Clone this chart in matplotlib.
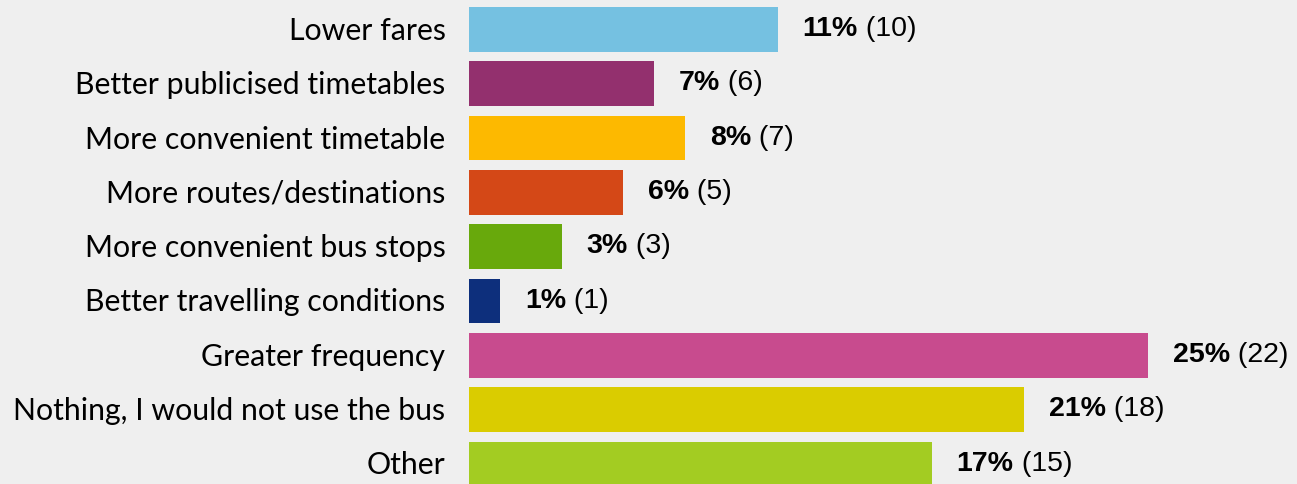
import matplotlib
matplotlib.use("Agg")
import matplotlib.pyplot as plt
import matplotlib.transforms as mtransforms

categories = ["Lower fares", "Better publicised timetables", "More convenient timetable",
              "More routes/destinations", "More convenient bus stops",
              "Better travelling conditions", "Greater frequency",
              "Nothing, I would not use the bus", "Other"]
percents = [11, 7, 8, 6, 3, 1, 25, 21, 17]
counts = [10, 6, 7, 5, 3, 1, 22, 18, 15]
colors = ["#75C1E1", "#93306E", "#FDB900", "#D44817", "#68A90C",
          "#0D2F7C", "#C84B8E", "#DACC00", "#A3CC22"]

W, H = 1297, 485
fig = plt.figure(figsize=(W / 100, H / 100), dpi=100)
bg = "#EFEFEF"
fig.patch.set_facecolor(bg)
x0 = 469
ax = fig.add_axes([x0 / W, 0, 1 - x0 / W, 1])
ax.set_facecolor(bg)

pitch = 54.3
first = 30.5
ypos = list(range(len(categories)))
ax.barh(ypos, counts, height=44.7 / pitch, color=colors)
ax.set_xlim(0, (W - x0) / 30.85)
ax.set_ylim((H - first) / pitch, -first / pitch)

ax.set_yticks(ypos)
ax.set_yticklabels(categories, fontfamily="Lato", fontsize=21.8)
ax.tick_params(axis="y", length=0, pad=17)
shift = mtransforms.ScaledTranslation(0, 2 / 100, fig.dpi_scale_trans)
for lab in ax.get_yticklabels():
    lab.set_transform(lab.get_transform() + shift)
ax.set_xticks([])
for s in ax.spines.values():
    s.set_visible(False)

for y, c, p in zip(ypos, counts, percents):
    t1 = ax.annotate(f"{p}%", xy=(c, y), xytext=(18, 1), textcoords="offset points",
                     va="center", ha="left", fontfamily="Liberation Sans",
                     fontweight="bold", fontsize=20.5)
    ax.annotate(f" ({c})", xy=(1, 0), xycoords=t1, va="bottom", ha="left",
                fontfamily="Liberation Sans", fontsize=20.5)

fig.savefig("out.png", dpi=100, facecolor=bg)
